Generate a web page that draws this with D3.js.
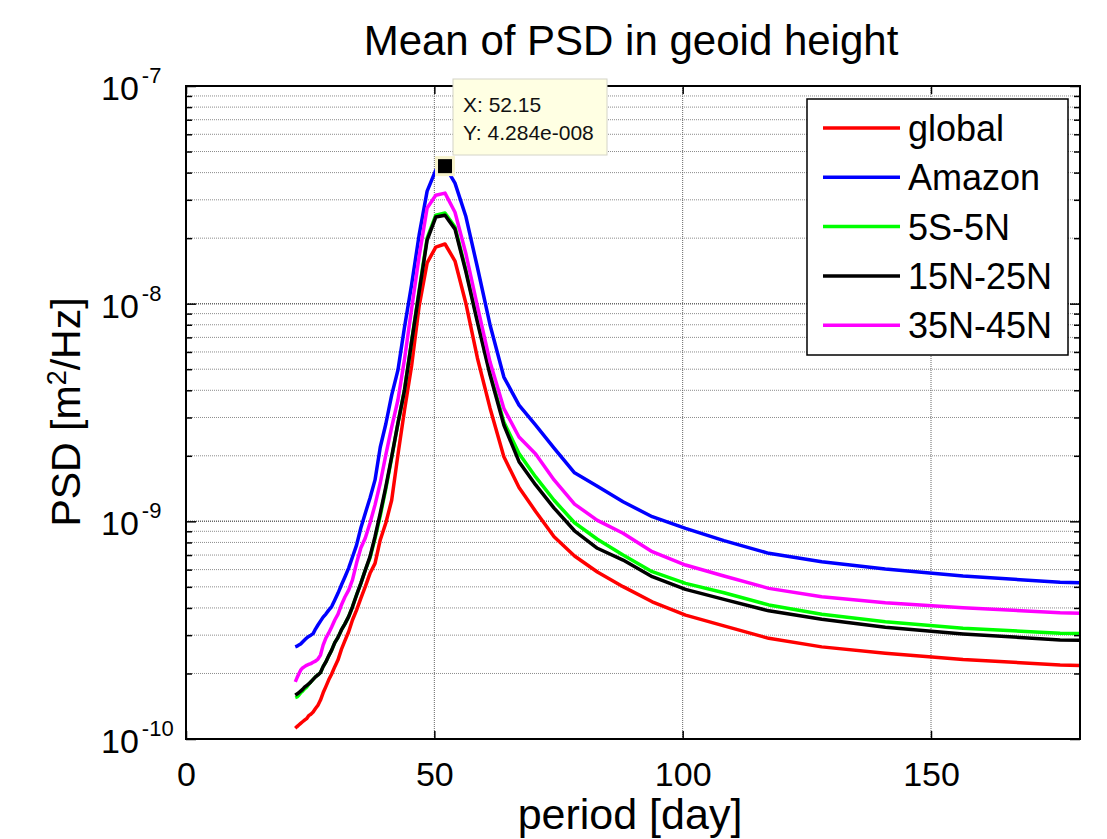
<!DOCTYPE html>
<html>
<head>
<meta charset="utf-8">
<script src="https://cdn.jsdelivr.net/npm/d3@7"></script>
<style>
  body { margin: 0; background: #fff; }
  svg { display: block; font-family: "Liberation Sans", Arial, Helvetica, sans-serif; }
</style>
</head>
<body>
<svg id="chart" width="1107" height="839"></svg>
<script>
// periods [day] of the spectral estimates, ascending
let periods = [22.0, 22.35, 22.71, 23.08, 23.47, 23.87, 24.28, 24.7, 25.14, 25.6, 26.07, 26.57, 27.08,
  27.61, 28.16, 28.74, 29.33, 29.96, 30.61, 31.29, 32.0,
  32.75, 33.52, 34.34, 35.2, 36.1, 37.05, 38.06, 39.11, 40.23, 41.41,
  42.67, 44.0, 45.42, 46.94, 48.55, 50.29, 52.15,
  54.16, 56.32, 58.67, 61.22, 64.0, 67.05, 70.4, 74.11, 78.23, 82.83,
  88.0, 93.87, 100.58, 108.31, 117.34, 128.0, 140.8, 156.45, 176.0, 201.15];

let psdGlobal = [1.12e-10, 1.14e-10, 1.16e-10, 1.18e-10, 1.20e-10, 1.22e-10, 1.24e-10, 1.28e-10, 1.30e-10, 1.33e-10, 1.38e-10, 1.43e-10, 1.51e-10,
  1.63e-10, 1.74e-10, 1.87e-10, 1.99e-10, 2.15e-10, 2.31e-10, 2.58e-10, 2.83e-10,
  3.11e-10, 3.52e-10, 3.91e-10, 4.43e-10, 5.01e-10, 5.77e-10, 6.41e-10, 8.21e-10, 9.82e-10, 1.25e-9,
  2.02e-9, 3.25e-9, 5.17e-9, 9.75e-9, 1.54e-8, 1.82e-8, 1.88e-8,
  1.57e-8, 1.01e-8, 5.63e-9, 3.31e-9, 1.98e-9, 1.43e-9, 1.11e-9, 8.50e-10, 6.93e-10, 5.85e-10,
  5.01e-10, 4.27e-10, 3.71e-10, 3.31e-10, 2.90e-10, 2.65e-10, 2.48e-10, 2.32e-10, 2.19e-10, 2.12e-10];

let psdAmazon = [2.65e-10, 2.67e-10, 2.70e-10, 2.73e-10, 2.79e-10, 2.85e-10, 2.91e-10, 2.96e-10, 3.00e-10, 3.05e-10, 3.20e-10, 3.34e-10, 3.48e-10,
  3.63e-10, 3.75e-10, 3.91e-10, 4.06e-10, 4.35e-10, 4.68e-10, 5.10e-10, 5.55e-10,
  6.10e-10, 6.86e-10, 7.78e-10, 9.32e-10, 1.09e-9, 1.28e-9, 1.55e-9, 2.19e-9, 2.80e-9, 3.80e-9,
  4.95e-9, 7.81e-9, 1.22e-8, 2.07e-8, 3.29e-8, 4.11e-8, 4.284e-8,
  3.58e-8, 2.53e-8, 1.47e-8, 7.98e-9, 4.60e-9, 3.42e-9, 2.77e-9, 2.17e-9, 1.67e-9, 1.45e-9,
  1.23e-9, 1.05e-9, 9.29e-10, 8.15e-10, 7.13e-10, 6.52e-10, 6.04e-10, 5.61e-10, 5.25e-10, 5.10e-10];

let psd5S5N = [1.55e-10, 1.56e-10, 1.59e-10, 1.63e-10, 1.66e-10, 1.70e-10, 1.73e-10, 1.78e-10, 1.83e-10, 1.88e-10, 1.93e-10, 1.97e-10, 2.02e-10,
  2.15e-10, 2.26e-10, 2.41e-10, 2.56e-10, 2.77e-10, 2.93e-10, 3.17e-10, 3.38e-10,
  3.65e-10, 4.05e-10, 4.59e-10, 5.19e-10, 5.97e-10, 6.80e-10, 8.35e-10, 1.06e-9, 1.41e-9, 1.96e-9,
  2.82e-9, 4.03e-9, 6.72e-9, 1.15e-8, 2.00e-8, 2.55e-8, 2.61e-8,
  2.25e-8, 1.44e-8, 8.41e-9, 4.80e-9, 2.86e-9, 2.05e-9, 1.60e-9, 1.25e-9, 9.85e-10, 8.27e-10,
  7.00e-10, 5.87e-10, 5.19e-10, 4.70e-10, 4.13e-10, 3.74e-10, 3.46e-10, 3.23e-10, 3.06e-10, 3.03e-10];

let psd15N25N = [1.59e-10, 1.61e-10, 1.63e-10, 1.66e-10, 1.69e-10, 1.73e-10, 1.76e-10, 1.79e-10, 1.83e-10, 1.88e-10, 1.93e-10, 1.97e-10, 2.02e-10,
  2.15e-10, 2.26e-10, 2.41e-10, 2.56e-10, 2.77e-10, 2.93e-10, 3.17e-10, 3.38e-10,
  3.65e-10, 4.05e-10, 4.59e-10, 5.19e-10, 5.97e-10, 6.88e-10, 8.50e-10, 1.09e-9, 1.44e-9, 1.98e-9,
  2.82e-9, 4.01e-9, 6.66e-9, 1.13e-8, 1.96e-8, 2.50e-8, 2.55e-8,
  2.20e-8, 1.41e-8, 8.23e-9, 4.70e-9, 2.77e-9, 1.88e-9, 1.47e-9, 1.15e-9, 9.05e-10, 7.52e-10,
  6.64e-10, 5.57e-10, 4.87e-10, 4.38e-10, 3.88e-10, 3.55e-10, 3.26e-10, 3.04e-10, 2.85e-10, 2.80e-10];

let psd35N45N = [1.83e-10, 1.91e-10, 1.99e-10, 2.07e-10, 2.12e-10, 2.15e-10, 2.18e-10, 2.20e-10, 2.22e-10, 2.25e-10, 2.28e-10, 2.33e-10, 2.43e-10,
  2.70e-10, 2.91e-10, 3.07e-10, 3.27e-10, 3.52e-10, 3.75e-10, 4.13e-10, 4.49e-10,
  4.83e-10, 5.38e-10, 6.43e-10, 7.54e-10, 8.38e-10, 9.82e-10, 1.19e-9, 1.50e-9, 2.02e-9, 2.71e-9,
  3.61e-9, 5.57e-9, 9.45e-9, 1.65e-8, 2.75e-8, 3.15e-8, 3.22e-8,
  2.63e-8, 1.71e-8, 9.75e-9, 5.39e-9, 3.30e-9, 2.44e-9, 2.04e-9, 1.55e-9, 1.20e-9, 1.01e-9,
  8.81e-10, 7.25e-10, 6.30e-10, 5.61e-10, 4.92e-10, 4.50e-10, 4.23e-10, 4.01e-10, 3.80e-10, 3.70e-10];

let seriesNames = ["global", "Amazon", "5S-5N", "15N-25N", "35N-45N"];
let seriesColors = ["#ff0000", "#0000ff", "#00ff00", "#000000", "#ff00ff"];
let seriesValues = [psdGlobal, psdAmazon, psd5S5N, psd15N25N, psd35N45N];

let xTicks = [0, 50, 100, 150];
let yMajorTicks = [1e-10, 1e-9, 1e-8, 1e-7];
let yTickExponents = ["-10", "-9", "-8", "-7"];

let tipPeriod = 52.15;
let tipPSD = 4.284e-8;
let tipLines = ["X: 52.15", "Y: 4.284e-008"];

let plotLeft = 186, plotRight = 1080, plotTop = 86, plotBottom = 739;

let svg = d3.select("#chart");

let x = d3.scaleLinear().domain([0, 180]).range([plotLeft, plotRight]);
let y = d3.scaleLog().domain([1e-10, 1e-7]).range([plotBottom, plotTop]);

// grid
let grid = svg.append("g");
let minorValues = y.ticks().filter(function (v) { return yMajorTicks.indexOf(v) < 0; });
grid.selectAll("line.hminor")
    .data(minorValues)
    .enter().append("line")
    .attr("x1", plotLeft).attr("x2", plotRight)
    .attr("y1", function (d) { return y(d); })
    .attr("y2", function (d) { return y(d); })
    .attr("stroke", "#8c8c8c")
    .attr("stroke-width", 1)
    .attr("stroke-dasharray", "1,1");
grid.selectAll("line.hmajor")
    .data(yMajorTicks)
    .enter().append("line")
    .attr("x1", plotLeft).attr("x2", plotRight)
    .attr("y1", function (d) { return y(d); })
    .attr("y2", function (d) { return y(d); })
    .attr("stroke", "#666")
    .attr("stroke-width", 1.5)
    .attr("stroke-dasharray", "1,1");
grid.selectAll("line.v")
    .data(xTicks.filter(function (d) { return d > 0; }))
    .enter().append("line")
    .attr("x1", function (d) { return x(d); })
    .attr("x2", function (d) { return x(d); })
    .attr("y1", plotTop).attr("y2", plotBottom)
    .attr("stroke", "#666")
    .attr("stroke-width", 1)
    .attr("stroke-dasharray", "1,1");

// curves
svg.append("clipPath").attr("id", "plotClip")
    .append("rect")
    .attr("x", plotLeft).attr("y", plotTop)
    .attr("width", plotRight - plotLeft).attr("height", plotBottom - plotTop);

let line = d3.line()
    .x(function (d) { return x(d[0]); })
    .y(function (d) { return y(d[1]); });

let curves = svg.append("g").attr("clip-path", "url(#plotClip)");
seriesValues.forEach(function (vals, i) {
    curves.append("path")
        .attr("d", line(periods.map(function (p, j) { return [p, vals[j]]; })))
        .attr("fill", "none")
        .attr("stroke", seriesColors[i])
        .attr("stroke-width", 3.5)
        .attr("stroke-linejoin", "round");
});

// axes box and ticks
let axes = svg.append("g");
axes.append("g")
    .attr("transform", "translate(0," + plotBottom + ")")
    .call(d3.axisBottom(x).tickValues(xTicks).tickSizeInner(-8).tickSizeOuter(0).tickPadding(23))
    .call(function (g) {
        g.select(".domain").remove();
        g.selectAll("text").attr("font-size", 34).attr("font-family", "Liberation Sans, Arial, sans-serif").attr("fill", "#000");
    });
axes.append("g")
    .attr("transform", "translate(0," + plotTop + ")")
    .call(d3.axisTop(x).tickValues(xTicks).tickSizeInner(-8).tickSizeOuter(0).tickFormat(""))
    .call(function (g) { g.select(".domain").remove(); });

axes.append("g")
    .attr("transform", "translate(" + plotLeft + ",0)")
    .call(d3.axisLeft(y).tickValues(minorValues).tickSizeInner(-6).tickSizeOuter(0).tickFormat(""))
    .call(function (g) { g.select(".domain").remove(); });
axes.append("g")
    .attr("transform", "translate(" + plotLeft + ",0)")
    .call(d3.axisLeft(y).tickValues(yMajorTicks).tickSizeInner(-10).tickSizeOuter(0).tickFormat(""))
    .call(function (g) { g.select(".domain").remove(); });
axes.append("g")
    .attr("transform", "translate(" + plotRight + ",0)")
    .call(d3.axisRight(y).tickValues(minorValues).tickSizeInner(-6).tickSizeOuter(0).tickFormat(""))
    .call(function (g) { g.select(".domain").remove(); });
axes.append("g")
    .attr("transform", "translate(" + plotRight + ",0)")
    .call(d3.axisRight(y).tickValues(yMajorTicks).tickSizeInner(-10).tickSizeOuter(0).tickFormat(""))
    .call(function (g) { g.select(".domain").remove(); });
axes.selectAll(".tick line").attr("stroke", "#000").attr("stroke-width", 1.5);

axes.append("rect")
    .attr("x", plotLeft).attr("y", plotTop)
    .attr("width", plotRight - plotLeft).attr("height", plotBottom - plotTop)
    .attr("fill", "none")
    .attr("stroke", "#000")
    .attr("stroke-width", 2);

// y tick labels 10^n
let yLab = svg.append("g");
yMajorTicks.forEach(function (v, i) {
    let t = yLab.append("text")
        .attr("x", 101)
        .attr("y", y(v) + 14)
        .attr("font-size", 34);
    t.append("tspan").text("10");
    t.append("tspan")
        .attr("font-size", 22)
        .attr("dx", 3)
        .attr("dy", -17)
        .text(yTickExponents[i]);
});

// titles
svg.append("text")
    .attr("x", 631).attr("y", 55)
    .attr("text-anchor", "middle")
    .attr("font-size", 42)
    .text("Mean of PSD in geoid height");

svg.append("text")
    .attr("x", 630).attr("y", 829)
    .attr("text-anchor", "middle")
    .attr("font-size", 43)
    .text("period [day]");

let yTitle = svg.append("text")
    .attr("transform", "translate(80,412) rotate(-90)")
    .attr("text-anchor", "middle")
    .attr("font-size", 41);
yTitle.append("tspan").text("PSD [m");
yTitle.append("tspan").attr("font-size", 27).attr("dy", -14).text("2");
yTitle.append("tspan").attr("dy", 14).text("/Hz]");

// legend
let legend = svg.append("g");
legend.append("rect")
    .attr("x", 807).attr("y", 99)
    .attr("width", 261).attr("height", 256)
    .attr("fill", "#fff")
    .attr("stroke", "#000")
    .attr("stroke-width", 1.5);
seriesNames.forEach(function (name, i) {
    let ry = 128 + i * 49.3;
    legend.append("line")
        .attr("x1", 823).attr("x2", 900)
        .attr("y1", ry).attr("y2", ry)
        .attr("stroke", seriesColors[i])
        .attr("stroke-width", 3.5);
    legend.append("text")
        .attr("x", 908).attr("y", ry + 13)
        .attr("font-size", 36)
        .text(name);
});

// data tip
let tip = svg.append("g");
let tx = x(tipPeriod), ty = y(tipPSD);
tip.append("rect")
    .attr("x", tx - 10).attr("y", ty - 10)
    .attr("width", 20).attr("height", 20)
    .attr("fill", "#f7f3cc");
tip.append("rect")
    .attr("x", tx - 7).attr("y", ty - 7)
    .attr("width", 14).attr("height", 14)
    .attr("fill", "#000");
tip.append("rect")
    .attr("x", 453).attr("y", 79)
    .attr("width", 154).attr("height", 76)
    .attr("fill", "#ffffe3")
    .attr("stroke", "#d4d4c8")
    .attr("stroke-width", 1);
tipLines.forEach(function (s, i) {
    tip.append("text")
        .attr("x", 463).attr("y", 112 + i * 28)
        .attr("font-size", 21)
        .attr("fill", "#111")
        .text(s);
});
</script>
</body>
</html>
